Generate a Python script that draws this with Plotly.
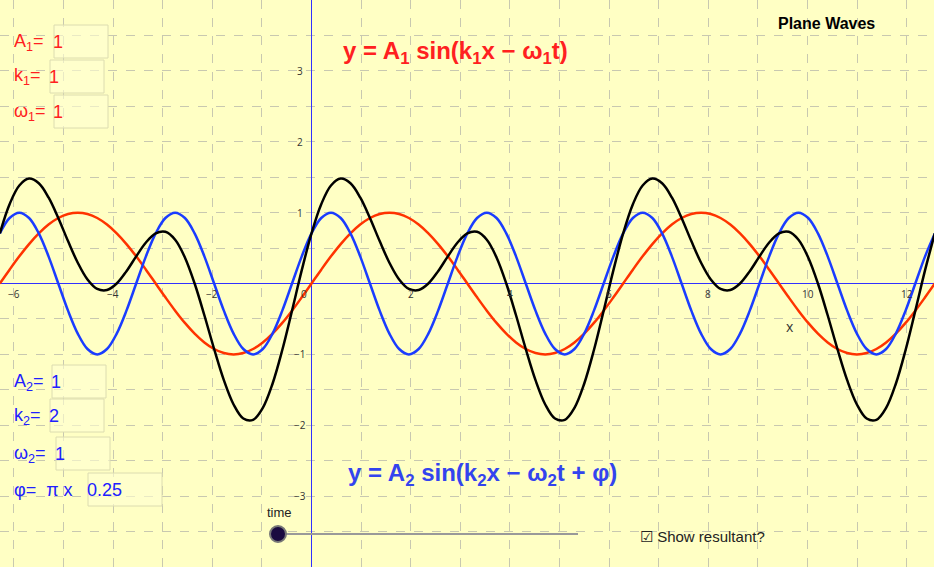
import numpy as np
import plotly.graph_objects as go

W, H = 934, 567
# x positions: multiples of pi/16 from -2pi to 4pi
steps = list(range(-32, 65))
x = [s * np.pi / 16 for s in steps]

red_half = [0, .195, .383, .556, .707, .831, .924, .981, 1, .981, .924, .831, .707, .556, .383, .195]
red_one = red_half + [-v for v in red_half]
blue_one = [.707, .924, 1, .924, .707, .383, 0, -.383, -.707, -.924, -1, -.924, -.707, -.383, 0, .383] * 2
black_one = [.707, 1.119, 1.383, 1.480, 1.414, 1.214, .924, .598, .293, .057, -.076, -.093, 0, .173, .383, .578,
             .707, .729, .617, .368, 0, -.448, -.924, -1.364, -1.707, -1.905, -1.924, -1.755, -1.414, -.939, -.383, .188]

wave1 = red_one * 3 + [0]
wave2 = blue_one * 3 + [.707]
resultant = black_one * 3 + [.707]

x_ticks = [-6, -4, -2, 2, 4, 6, 8, 10, 12]
y_ticks = [-3, -2, -1, 1, 2, 3]

fig = go.Figure()
fig.add_trace(go.Scatter(x=x, y=wave1, mode="lines", line=dict(color="#ff3300", width=2.5, shape="spline")))
fig.add_trace(go.Scatter(x=x, y=wave2, mode="lines", line=dict(color="#1a3cff", width=2.5, shape="spline")))
fig.add_trace(go.Scatter(x=x, y=resultant, mode="lines", line=dict(color="black", width=2.5, shape="spline")))

ann = []
for t in x_ticks:
    ann.append(dict(x=t, y=0, text=str(t).replace("-", "−"), showarrow=False, yshift=-10, font=dict(size=10, color="#333")))
ann.append(dict(x=0, y=0, text="0", showarrow=False, xshift=-8, yshift=-10, font=dict(size=10, color="#333")))
for t in y_ticks:
    ann.append(dict(x=0, y=t, text=str(t).replace("-", "−"), showarrow=False, xshift=-12, font=dict(size=10, color="#333")))
ann.append(dict(x=9.65, y=-0.6, text="x", showarrow=False, font=dict(size=14, color="#333")))


def P(px, py, text, color, size=18, anchor="left", bold=False):
    if bold:
        text = "<b>" + text + "</b>"
    ann.append(dict(xref="paper", yref="paper", x=px / W, y=1 - py / H, text=text, showarrow=False,
                    xanchor=anchor, yanchor="middle", font=dict(size=size, color=color, family="Liberation Sans")))


shapes = []


def box(x0, y0, x1, y1):
    shapes.append(dict(type="rect", xref="paper", yref="paper", x0=x0 / W, x1=x1 / W, y0=1 - y1 / H, y1=1 - y0 / H,
                       line=dict(color="#dcdcb0", width=1), fillcolor="rgba(255,255,210,0.6)"))


red, blue = "#ff2020", "#2020ff"
P(12, 42, "A<sub>1</sub>=", red); box(54, 25, 108, 58); P(51, 42, "1", red)
P(12, 77, "k<sub>1</sub>=", red); box(50, 60, 104, 93); P(47, 77, "1", red)
P(12, 112, "ω<sub>1</sub>=", red); box(54, 95, 108, 128); P(51, 112, "1", red)
P(12, 382, "A<sub>2</sub>=", blue); box(52, 365, 106, 398); P(49, 382, "1", blue)
P(12, 416, "k<sub>2</sub>=", blue); box(50, 399, 104, 432); P(47, 416, "2", blue)
P(12, 454, "ω<sub>2</sub>=", blue); box(56, 437, 110, 470); P(53, 454, "1", blue)
P(12, 490, "φ=  π x", blue); box(88, 473, 162, 506); P(85, 490, "0.25", blue)
P(341, 52, "y = A<sub>1</sub> sin(k<sub>1</sub>x − ω<sub>1</sub>t)", red, size=24, bold=True)
P(346, 474, "y = A<sub>2</sub> sin(k<sub>2</sub>x − ω<sub>2</sub>t + φ)", "#3344ee", size=24, bold=True)
P(877, 23, "Plane Waves", "black", size=16, anchor="right", bold=True)
P(265, 512, "time", "#222", size=13)
P(638, 536, "☑ Show resultant?", "#222", size=15)

shapes.append(dict(type="line", xref="paper", yref="paper", x0=278 / W, x1=578 / W, y0=1 - 534 / H, y1=1 - 534 / H,
                   line=dict(color="#999", width=2)))
shapes.append(dict(type="circle", xref="paper", yref="paper", x0=270 / W, x1=286 / W, y0=1 - 542 / H, y1=1 - 526 / H,
                   line=dict(color="#777", width=2), fillcolor="#1a0a40"))

fig.update_layout(
    width=W, height=H, margin=dict(l=0, r=0, t=0, b=0), showlegend=False,
    plot_bgcolor="#ffffc4", paper_bgcolor="#ffffc4",
    xaxis=dict(range=[-6.28, 12.55], dtick=1, showticklabels=False, gridcolor="#c8c8b0", griddash="dash",
               zeroline=True, zerolinecolor="#3030ff", zerolinewidth=1),
    yaxis=dict(range=[-4, 4], dtick=0.5, showticklabels=False, gridcolor="#c8c8b0", griddash="dash",
               zeroline=True, zerolinecolor="#3030ff", zerolinewidth=1),
    annotations=ann, shapes=shapes,
)
fig.write_html("out.html", config={"displayModeBar": False},
               post_script="document.body.style.margin='0';document.body.style.overflow='hidden';")
